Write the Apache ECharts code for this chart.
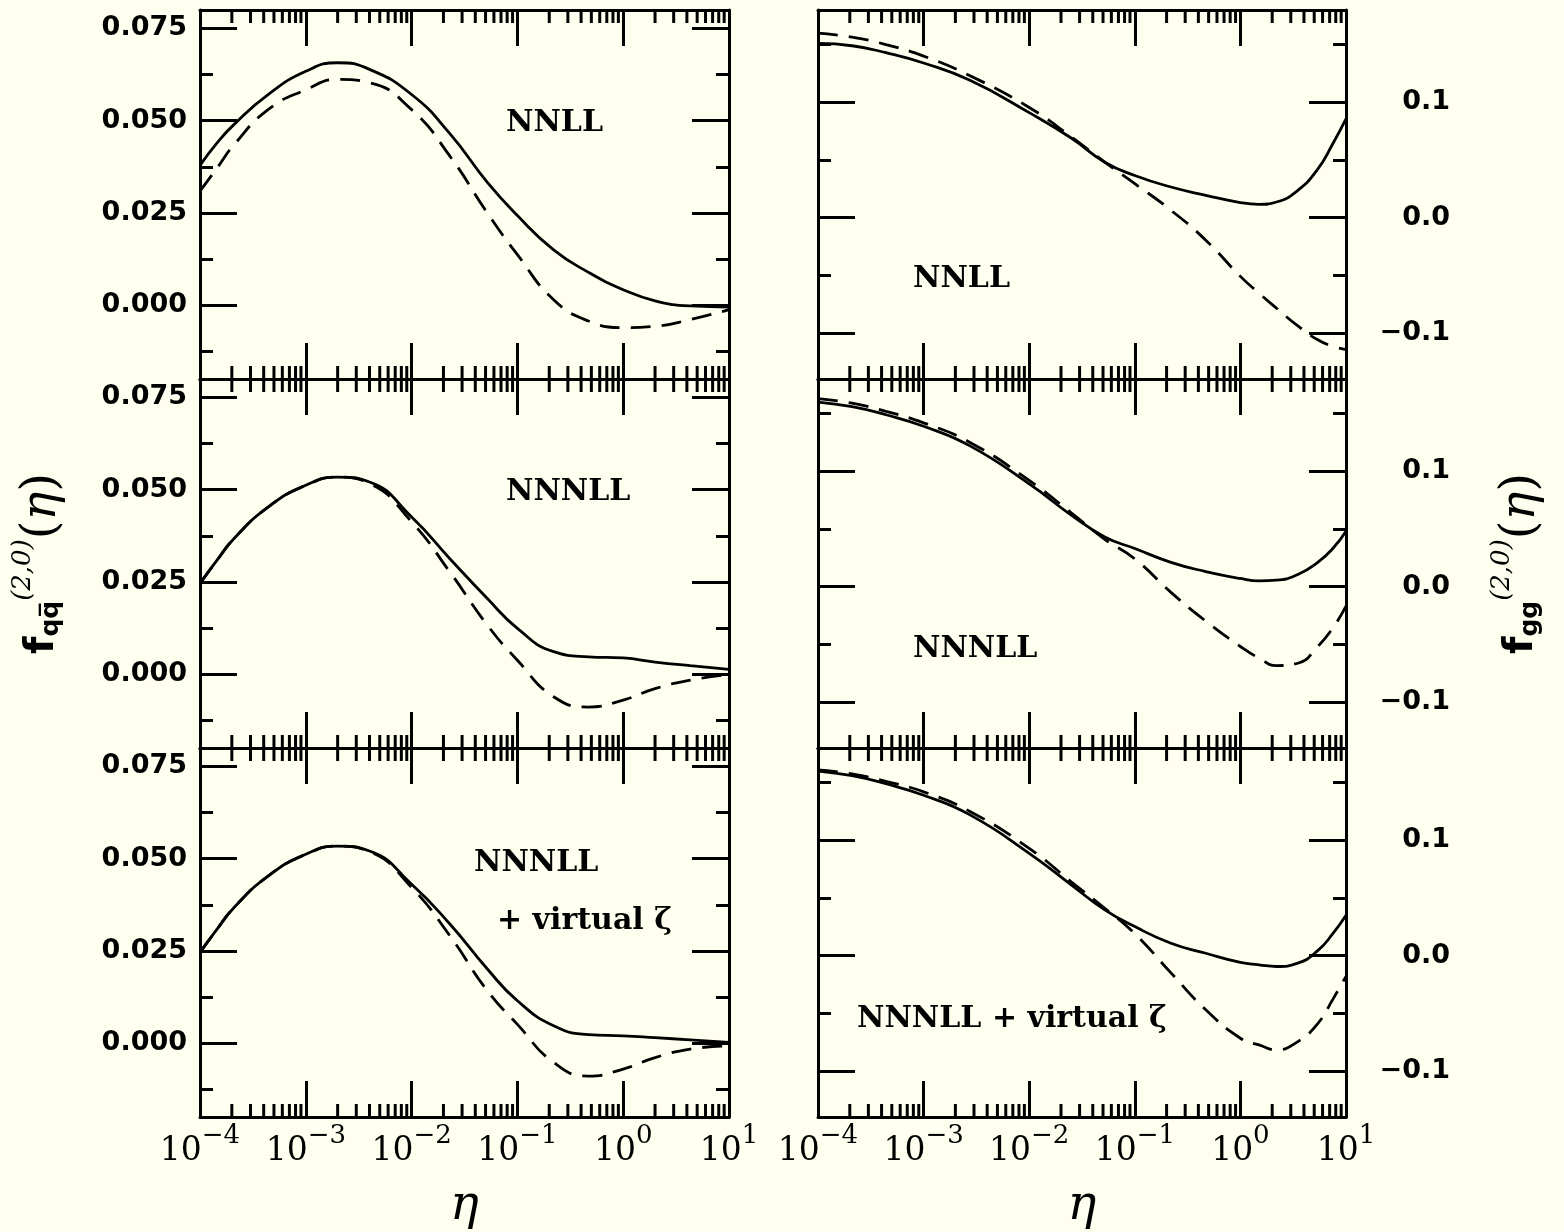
<!DOCTYPE html>
<html>
<head>
<meta charset="utf-8">
<script src="https://cdn.jsdelivr.net/npm/echarts@6/dist/echarts.min.js"></script>
<style>
  html, body { margin: 0; padding: 0; background: #fffff0; }
  #chart { width: 1564px; height: 1232px; }
</style>
</head>
<body>
<div id="chart"></div>
<script>
// eta sample points, left column (q qbar)
var etaQ = [1e-4, 1.45e-4, 2.1e-4, 4.4e-4, 1e-3, 2e-3, 4e-3, 1e-2, 2.3e-2, 5.2e-2, 0.1, 0.22, 0.47, 1, 2, 4.3, 10];
// eta sample points, right column (gg)
var etaG = [1e-4, 2.1e-4, 4.4e-4, 1e-3, 2.75e-3, 1e-2, 2.5e-2, 5.2e-2, 0.1, 0.22, 0.47, 1, 1.5, 2.2, 3.5, 5.4, 7.5, 10];

// f_qqbar : solid = full, dashed = expansion
var qqNnllSolid   = [0.0379, 0.0440, 0.0490, 0.0571, 0.0634, 0.0657, 0.0639, 0.0571, 0.0465, 0.0333, 0.0243, 0.0150, 0.0089, 0.0042, 0.0012, -0.0002, -0.0005];
var qqNnllDashed  = [0.0309, 0.0372, 0.0435, 0.0530, 0.0584, 0.0612, 0.0603, 0.0530, 0.0404, 0.0250, 0.0137, 0.0015, -0.0043, -0.0061, -0.0057, -0.0039, -0.0012];
var qqNnnllSolid  = [0.0246, 0.0309, 0.0368, 0.0453, 0.0512, 0.0534, 0.0521, 0.0426, 0.0313, 0.0205, 0.0124, 0.0061, 0.0047, 0.0044, 0.0033, 0.0023, 0.0013];
var qqNnnllDashed = [0.0246, 0.0309, 0.0368, 0.0453, 0.0512, 0.0534, 0.0517, 0.0413, 0.0277, 0.0133, 0.0038, -0.0061, -0.0089, -0.0070, -0.0039, -0.0016, -0.0001];
var qqVirtSolid   = [0.0246, 0.0309, 0.0368, 0.0453, 0.0512, 0.0534, 0.0521, 0.0431, 0.0323, 0.0201, 0.0115, 0.0047, 0.0023, 0.0020, 0.0015, 0.0009, 0.0002];
var qqVirtDashed  = [0.0246, 0.0309, 0.0368, 0.0453, 0.0512, 0.0534, 0.0519, 0.0422, 0.0291, 0.0142, 0.0051, -0.0052, -0.0089, -0.0070, -0.0039, -0.0016, -0.0007];

// f_gg
var ggNnllSolid   = [0.151, 0.149, 0.143, 0.134, 0.119, 0.091, 0.069, 0.048, 0.0365, 0.0265, 0.0193, 0.013, 0.0115, 0.0135, 0.0236, 0.042, 0.064, 0.0855];
var ggNnllDashed  = [0.160, 0.1565, 0.150, 0.140, 0.123, 0.0955, 0.070, 0.048, 0.0294, 0.0063, -0.0196, -0.051, -0.0656, -0.0786, -0.094, -0.106, -0.1117, -0.1145];
var ggNnnllSolid  = [0.160, 0.156, 0.149, 0.139, 0.122, 0.089, 0.062, 0.043, 0.033, 0.021, 0.013, 0.007, 0.005, 0.0055, 0.0105, 0.021, 0.033, 0.048];
var ggNnnllDashed = [0.163, 0.159, 0.152, 0.142, 0.125, 0.092, 0.064, 0.041, 0.024, -0.005, -0.030, -0.052, -0.062, -0.0685, -0.0665, -0.052, -0.036, -0.017];
var ggVirtSolid   = [0.160, 0.156, 0.149, 0.139, 0.122, 0.0887, 0.0613, 0.0396, 0.0251, 0.0107, 0.002, -0.006, -0.008, -0.0095, -0.0066, 0.0043, 0.019, 0.035];
var ggVirtDashed  = [0.161, 0.1575, 0.151, 0.142, 0.125, 0.093, 0.064, 0.041, 0.019, -0.015, -0.047, -0.0717, -0.0775, -0.0818, -0.0746, -0.059, -0.038, -0.018];

// tick values
var qqMajor = [0, 0.025, 0.05, 0.075];
var qqMinor = [-0.0125, 0.0125, 0.0375, 0.0625];
var ggMajor = [-0.1, 0, 0.1];
var ggMinor = [-0.05, 0.05, 0.15];
var decades = [-4, -3, -2, -1, 0];
var minorMults = [2, 3, 4, 5, 6, 7, 8, 9];

var chart = echarts.init(document.getElementById('chart'));

// panel layout: 0-2 left column top->bottom, 3-5 right column
var panels = [
  {left: 200, top: 10,  width: 529, x: etaQ, solid: qqNnllSolid,  dashed: qqNnllDashed},
  {left: 200, top: 379, width: 529, x: etaQ, solid: qqNnnllSolid, dashed: qqNnnllDashed},
  {left: 200, top: 748, width: 529, x: etaQ, solid: qqVirtSolid,  dashed: qqVirtDashed},
  {left: 818, top: 10,  width: 528, x: etaG, solid: ggNnllSolid,  dashed: ggNnllDashed},
  {left: 818, top: 379, width: 528, x: etaG, solid: ggNnnllSolid, dashed: ggNnnllDashed},
  {left: 818, top: 748, width: 528, x: etaG, solid: ggVirtSolid,  dashed: ggVirtDashed}
];

var minorEta = [];
decades.forEach(function (d) {
  minorMults.forEach(function (m) {
    minorEta.push([m * Math.pow(10, d), 0]);
  });
});

function zip(xs, ys) {
  return xs.map(function (x, i) { return [x, ys[i]]; });
}

var lineCol = '#000';

function powLabel(v) {
  var e = Math.round(Math.log(v) / Math.LN10);
  return '{b|10}{e|' + (e < 0 ? '\u2212' + (-e) : e) + '}';
}

function xAxisFor(g, pos, withLabels) {
  return {
    type: 'log', logBase: 10, gridIndex: g, position: pos,
    min: 1e-4, max: 10, splitNumber: 5,
    axisLine: {show: true, onZero: false, lineStyle: {color: lineCol, width: 3}},
    axisTick: {show: true, inside: true, length: 36, lineStyle: {color: lineCol, width: 3}},
    splitLine: {show: false},
    axisLabel: {
      show: withLabels, margin: 6, formatter: powLabel,
      showMinLabel: true, showMaxLabel: true, hideOverlap: false,
      rich: {
        b: {fontFamily: 'DejaVu Serif', fontSize: 33, color: '#000'},
        e: {fontFamily: 'DejaVu Serif', fontSize: 26, color: '#000', padding: [0, 0, 30, 0]}
      }
    }
  };
}

function yAxisFor(g, pos, isQ, major, withLabels) {
  var ticks = major ? (isQ ? qqMajor : ggMajor) : (isQ ? qqMinor : ggMinor);
  var ax = {
    type: 'value', gridIndex: g, position: pos, offset: 0,
    min: isQ ? -0.02 : -0.14, max: isQ ? 0.08 : 0.18,
    axisLine: {show: major, onZero: false, lineStyle: {color: lineCol, width: 3}},
    axisTick: {show: true, inside: true, length: major ? 37 : 13, customValues: ticks,
      lineStyle: {color: lineCol, width: 3}},
    splitLine: {show: false},
    axisLabel: {show: false}
  };
  if (withLabels) {
    ax.axisLabel = {
      show: true, customValues: ticks,
      fontFamily: 'DejaVu Sans', fontWeight: 'bold', fontSize: 27, color: '#000',
      formatter: function (v) {
        return isQ ? v.toFixed(3) : v.toFixed(1).replace('-', '\u2212');
      }
    };
    if (pos === 'right') {
      ax.axisLabel.align = 'right';
      ax.axisLabel.margin = 104;
    } else {
      ax.axisLabel.margin = 13;
    }
  }
  return ax;
}

// 画次刻度
function renderMinor(params, api) {
  var x = api.coord([api.value(0), 0])[0];
  var cs = params.coordSys;
  var st = {stroke: lineCol, lineWidth: 3};
  return {
    type: 'group',
    children: [
      {type: 'line', shape: {x1: x, y1: cs.y, x2: x, y2: cs.y + 13}, style: st},
      {type: 'line', shape: {x1: x, y1: cs.y + cs.height, x2: x, y2: cs.y + cs.height - 13}, style: st}
    ]
  };
}

var grids = [], xAxes = [], yAxes = [], series = [];
panels.forEach(function (p, g) {
  var isQ = g < 3;
  var bottomRow = (g === 2 || g === 5);
  grids.push({left: p.left, top: p.top, width: p.width, height: 369,
    containLabel: false, outerBoundsMode: 'none'});
  xAxes.push(xAxisFor(g, 'bottom', bottomRow));
  xAxes.push(xAxisFor(g, 'top', false));
  yAxes.push(yAxisFor(g, 'left', isQ, true, isQ));
  yAxes.push(yAxisFor(g, 'left', isQ, false, false));
  yAxes.push(yAxisFor(g, 'right', isQ, true, !isQ));
  yAxes.push(yAxisFor(g, 'right', isQ, false, false));

  series.push({
    type: 'line', xAxisIndex: 2 * g, yAxisIndex: 4 * g,
    data: zip(p.x, p.solid), smooth: 0.5, symbol: 'none',
    lineStyle: {color: lineCol, width: 2.8}, z: 5
  });
  series.push({
    type: 'line', xAxisIndex: 2 * g, yAxisIndex: 4 * g,
    data: zip(p.x, p.dashed), smooth: 0.5, symbol: 'none',
    lineStyle: {color: lineCol, width: 2.8, type: [20, 11]}, z: 5
  });
  series.push({
    type: 'custom', xAxisIndex: 2 * g, yAxisIndex: 4 * g,
    data: minorEta, renderItem: renderMinor, silent: true,
    encode: {x: 0, y: 1}, z: 6
  });
});

// eta axis titles
[4, 10].forEach(function (i) {
  xAxes[i].name = '\u03b7';
  xAxes[i].nameLocation = 'middle';
  xAxes[i].nameGap = 66;
  xAxes[i].nameTextStyle = {fontFamily: 'DejaVu Serif', fontStyle: 'italic', fontSize: 48, color: '#000'};
});

var nameRich = {
  f: {fontFamily: 'DejaVu Sans', fontWeight: 'bold', fontSize: 40, color: '#000'},
  s: {fontFamily: 'DejaVu Sans', fontWeight: 'bold', fontSize: 25, color: '#000', padding: [16, 0, 0, 0]},
  u: {fontFamily: 'DejaVu Serif', fontStyle: 'italic', fontSize: 26, color: '#000', padding: [0, 0, 40, 0]},
  p: {fontFamily: 'DejaVu Serif', fontSize: 48, color: '#000'},
  e: {fontFamily: 'DejaVu Serif', fontStyle: 'italic', fontSize: 48, color: '#000'}
};
// left title on middle-left panel
yAxes[4].name = '{f|f}{s|qq\u0305}{u|(2,0)}{p|(}{e|\u03b7}{p|)}';
yAxes[4].nameLocation = 'middle';
yAxes[4].nameRotate = 90;
yAxes[4].nameGap = 124;
yAxes[4].nameTextStyle = {rich: nameRich};
// right title on middle-right panel
yAxes[18].name = '{f|f}{s|gg}{u|(2,0)}{p|(}{e|\u03b7}{p|)}';
yAxes[18].nameLocation = 'middle';
yAxes[18].nameRotate = 90;
yAxes[18].nameGap = 143;
yAxes[18].nameTextStyle = {rich: nameRich};

// panel captions
var capFont = 'bold 30px "DejaVu Serif"';
var captions = [
  {text: 'NNLL', x: 506, y: 123},
  {text: 'NNNLL', x: 506, y: 492},
  {text: 'NNNLL', x: 474, y: 863},
  {text: '+ virtual \u03b6', x: 497, y: 921},
  {text: 'NNLL', x: 913, y: 279},
  {text: 'NNNLL', x: 913, y: 649},
  {text: 'NNNLL + virtual \u03b6', x: 857, y: 1019}
];

var option = {
  backgroundColor: '#fffff0',
  animation: false,
  grid: grids,
  xAxis: xAxes,
  yAxis: yAxes,
  series: series,
  graphic: captions.map(function (c) {
    return {
      type: 'text', x: c.x, y: c.y, z: 10,
      style: {text: c.text, font: capFont, fill: '#000', align: 'left', verticalAlign: 'middle'}
    };
  })
};
chart.setOption(option);
</script>
</body>
</html>
